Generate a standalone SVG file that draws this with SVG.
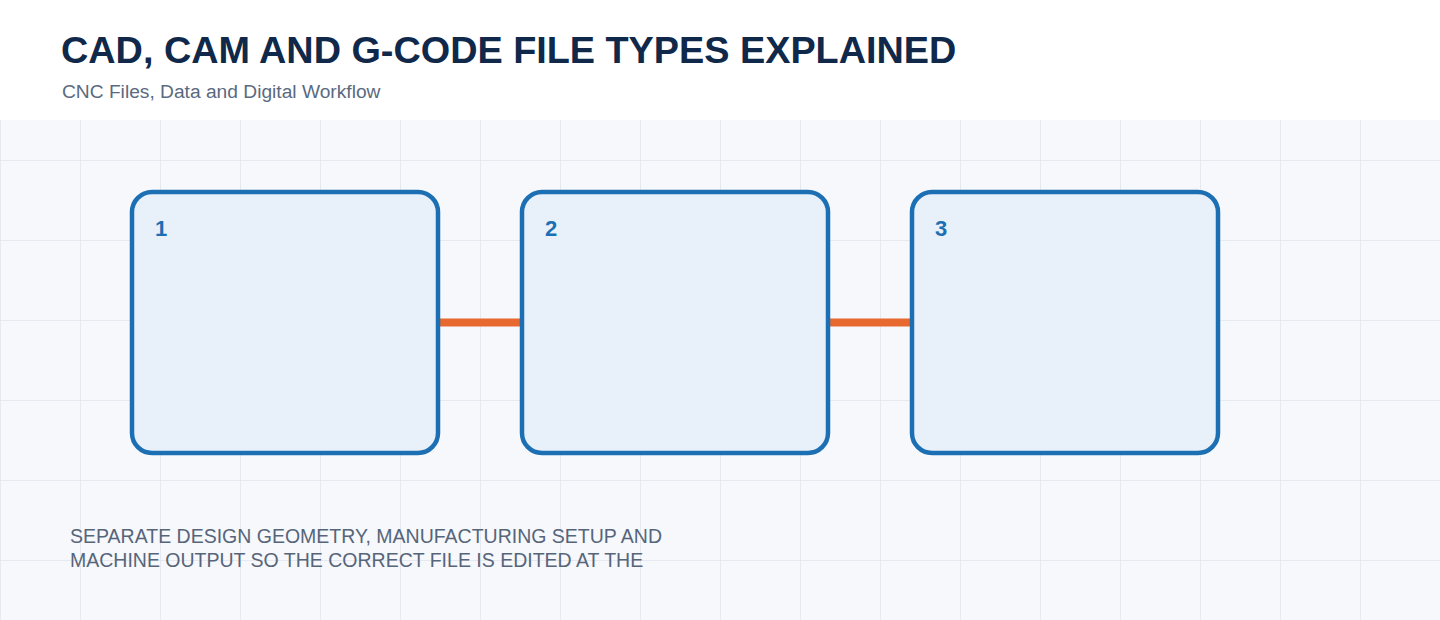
<svg xmlns="http://www.w3.org/2000/svg" width="1440" height="620" viewBox="0 0 1440 620">
  <defs>
    <pattern id="grid" x="0" y="0" width="80" height="80" patternUnits="userSpaceOnUse">
      <rect width="80" height="80" fill="#f6f8fc"/>
      <path d="M0 0 V80 M0 0 H80" fill="none" stroke="#e1e5eb" stroke-width="1.5"/>
    </pattern>
    <style>
      .title { font-family: "Liberation Sans", Arial, sans-serif; font-weight: bold; font-size: 37.8px; fill: #10284a; }
      .sub { font-family: "Liberation Sans", Arial, sans-serif; font-size: 19.2px; fill: #5a6a80; }
      .box { fill: #e8f0fa; stroke: #1d6fb3; stroke-width: 4.5; }
      .num { font-family: "Liberation Sans", Arial, sans-serif; font-weight: bold; font-size: 22px; fill: #1d6fb3; }
      .conn { stroke: #e8692f; stroke-width: 8; fill: none; }
      .note { font-family: "Liberation Sans", Arial, sans-serif; font-size: 19.5px; fill: #56657a; }
    </style>
  </defs>
  <rect x="0" y="0" width="1440" height="620" fill="#ffffff"/>
  <rect x="0" y="120" width="1440" height="500" fill="url(#grid)"/>
  <text class="title" x="61" y="63">CAD, CAM AND G-CODE FILE TYPES EXPLAINED</text>
  <text class="sub" x="62" y="98">CNC Files, Data and Digital Workflow</text>
  <g id="connectors">
    <line class="conn" x1="440" y1="322.5" x2="520" y2="322.5"/>
    <line class="conn" x1="830" y1="322.5" x2="910" y2="322.5"/>
  </g>
  <g id="node1">
    <rect class="box" x="132" y="192" width="306" height="261" rx="20" ry="20"/>
    <text class="num" x="155" y="236">1</text>
  </g>
  <g id="node2">
    <rect class="box" x="522" y="192" width="306" height="261" rx="20" ry="20"/>
    <text class="num" x="545" y="236">2</text>
  </g>
  <g id="node3">
    <rect class="box" x="912" y="192" width="306" height="261" rx="20" ry="20"/>
    <text class="num" x="935" y="236">3</text>
  </g>
  <text class="note" x="70" y="543">SEPARATE DESIGN GEOMETRY, MANUFACTURING SETUP AND</text>
  <text class="note" x="70" y="567">MACHINE OUTPUT SO THE CORRECT FILE IS EDITED AT THE</text>
</svg>
